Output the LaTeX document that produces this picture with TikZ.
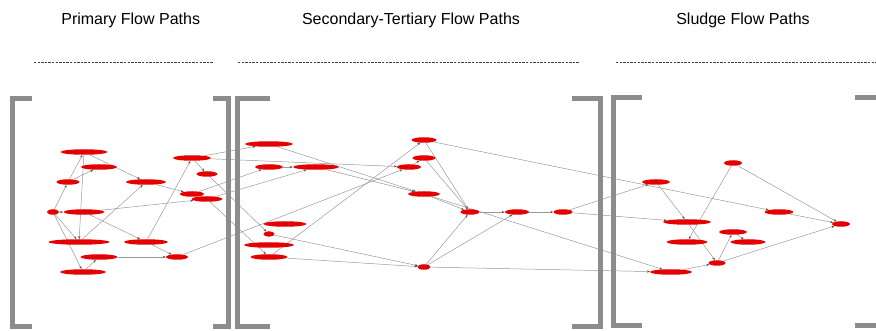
\documentclass[tikz,border=0pt]{standalone}
\usepackage{fontspec}
\setmainfont{Liberation Sans}
\usetikzlibrary{shapes.geometric,arrows.meta,backgrounds}
\definecolor{flowred}{RGB}{228,0,0}
\definecolor{bracketgray}{RGB}{140,140,140}
\begin{document}
\begin{tikzpicture}[x=1pt, y=-1pt, >={Stealth[length=3pt,width=2.2pt,color=black!70]},
          unit/.style={ellipse, fill=flowred, inner sep=0pt, minimum height=5.5pt},
          flow/.style={->, draw=black!40, line width=0.5pt},
          bracket/.style={draw=bracketgray, line width=4.6pt},
          rule/.style={draw=black!75, line width=1.2pt, dash pattern=on 2.4pt off 1.2pt},
          head/.style={anchor=base, font=\fontsize{16}{19}\selectfont}]
        \useasboundingbox (0,0) rectangle (876,331);
        \clip (0,0) rectangle (876,331);
        % headings and the dashed rules under them
        \node[head] (hprim) at (130.7,25) {Primary Flow Paths};
        \node[head] (hsec) at (411,25) {Secondary-Tertiary Flow Paths};
        \node[head] (hsl) at (743,25) {Sludge Flow Paths};
        \draw[rule] (34,62.5) -- (213,62.5);
        \draw[rule] (238,62.5) -- (580,62.5);
        \draw[rule] (616,62.5) -- (876,62.5);
        % one pair of brackets per group
        \draw[bracket] (32,98.5) -- (12.7,98.5) -- (12.7,326.5) -- (32,326.5);
        \draw[bracket] (213,98.5) -- (228.7,98.5) -- (228.7,326.5) -- (213,326.5);
        \draw[bracket] (269.5,98.5) -- (237.5,98.5) -- (237.5,326.5) -- (269.5,326.5);
        \draw[bracket] (571.7,98.5) -- (600.5,98.5) -- (600.5,326.5) -- (571.7,326.5);
        \draw[bracket] (642,97.8) -- (613.5,97.8) -- (613.5,325.7) -- (642,325.7);
        \draw[bracket] (855,97.5) -- (879,97.5) -- (879,325.5) -- (855,325.5);
        % primary units
        \foreach \n/\x/\y/\w in {p1/84/152/47, p2/99/167/36, p3/68/182/23, p4/146/182/40,
            p5/53/212/12, p6/84/212/41, p7/79/242/61, p8/146/242/44, p9/99/257/37,
            p10/177/257/22, p11/83/272/46, p12/192/158/38, p13/207/174/21,
            p14/192/194/24, p15/207/199/31}
          \node[unit, minimum width=\w pt] (\n) at (\x,\y) {};
        % secondary and tertiary units
        \foreach \n/\x/\y/\w in {s1/269/144/48, s2/269/167/28, s3/316/167/46, s4/285/224/43,
            s5/269/234/11, s6/269/245/50, s7/269/257/37, s8/424/140/25, s9/424/158/23,
            s10/409/167/24, s11/424/194/32, s12/424/267/13, s13/470/212/19,
            s14/517/212/24, s15/563/212/19}
          \node[unit, minimum width=\w pt] (\n) at (\x,\y) {};
        % sludge units
        \foreach \n/\x/\y/\w in {d1/656/182/28, d2/733/163/18, d3/687/222/48, d4/779/212/29,
            d5/841/224/18, d6/733/232/28, d7/687/242/41, d8/748/242/35, d9/717/263/17,
            d10/671/272/42}
          \node[unit, minimum width=\w pt] (\n) at (\x,\y) {};
        % flows sit behind the units
        \begin{pgfonlayer}{background}
          \foreach \a/\b in {p3/p1, p1/p4, p1/p7, p3/p2, p5/p3, p5/p7, p5/p11, p6/p5,
              p6/p8, p6/p15, p7/p4, p8/p12, p8/p10, p9/p10, p11/p9, p4/p14, p12/p13,
              p12/s1, p12/s10, p14/s2, p15/s3, p13/s5, p15/s7, p10/s10,
              s1/s11, s2/s3, s3/s11, s5/s12, s7/s12, s7/s8, s10/s9, s8/s13, s9/s13,
              s11/s13, s12/s13, s12/s14, s13/s14, s14/s15,
              s8/d4, s15/d1, s15/d3, s11/d10, s12/d10,
              d1/d3, d2/d7, d2/d5, d4/d5, d9/d5, d3/d9, d9/d6, d6/d8, d10/d9}
            \draw[flow] (\a) -- (\b);
        \end{pgfonlayer}
      \end{tikzpicture}
\end{document}
